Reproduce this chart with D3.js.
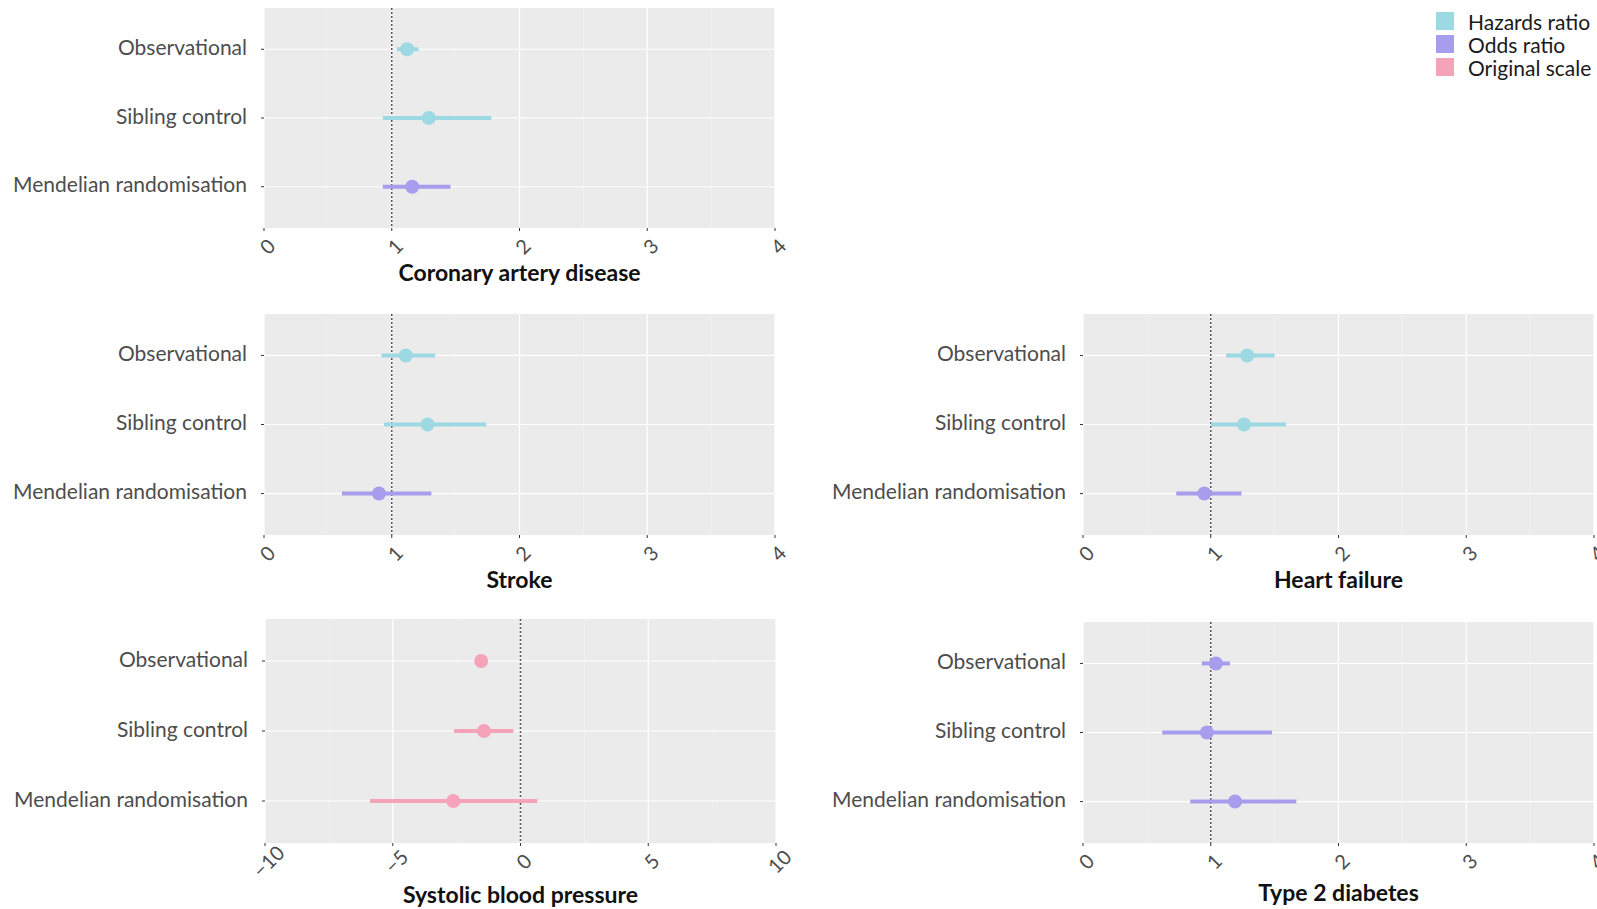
<!DOCTYPE html>
<html>
<head>
<meta charset="utf-8">
<script src="https://cdn.jsdelivr.net/npm/d3@7"></script>
<style>
  body { margin: 0; background: #fff; }
  svg { display: block; }
  text { font-family: Lato, "Open Sans", sans-serif; }
</style>
</head>
<body>
<div id="chart"></div>
<script>
// categories
const methods = ["Observational", "Sibling control", "Mendelian randomisation"];
const scaleTypes = ["Hazards ratio", "Odds ratio", "Original scale"];
const typeColours = ["#9dd9e2", "#a69ded", "#f5a3b8"];

// values (estimate, lower, upper, scale type)
const cadEst = [1.12, 1.29, 1.16];
const cadLow = [1.04, 0.93, 0.93];
const cadHigh = [1.21, 1.78, 1.46];
const cadType = ["Hazards ratio", "Hazards ratio", "Odds ratio"];

const strokeEst = [1.11, 1.28, 0.90];
const strokeLow = [0.92, 0.94, 0.61];
const strokeHigh = [1.34, 1.74, 1.31];
const strokeType = ["Hazards ratio", "Hazards ratio", "Odds ratio"];

const hfEst = [1.285, 1.26, 0.95];
const hfLow = [1.12, 1.00, 0.73];
const hfHigh = [1.50, 1.59, 1.24];
const hfType = ["Hazards ratio", "Hazards ratio", "Odds ratio"];

const sbpEst = [-1.54, -1.43, -2.63];
const sbpLow = [-1.62, -2.60, -5.89];
const sbpHigh = [-1.46, -0.28, 0.66];
const sbpType = ["Original scale", "Original scale", "Original scale"];

const t2dEst = [1.04, 0.97, 1.19];
const t2dLow = [0.93, 0.62, 0.84];
const t2dHigh = [1.15, 1.48, 1.67];
const t2dType = ["Odds ratio", "Odds ratio", "Odds ratio"];

const ratioTicks = [0, 1, 2, 3, 4];
const sbpTicks = [-10, -5, 0, 5, 10];

const width = 1597, height = 909;

// box = [left, top, right, bottom], titleGap = baseline below panel
const panels = [
    { title: "Coronary artery disease", est: cadEst, low: cadLow, high: cadHigh, type: cadType,
      ticks: ratioTicks, ref: 1, box: [264, 8, 775, 228], titleGap: 53 },
    { title: "Stroke", est: strokeEst, low: strokeLow, high: strokeHigh, type: strokeType,
      ticks: ratioTicks, ref: 1, box: [264, 314, 775, 535], titleGap: 53 },
    { title: "Heart failure", est: hfEst, low: hfLow, high: hfHigh, type: hfType,
      ticks: ratioTicks, ref: 1, box: [1083, 314, 1594, 535], titleGap: 53 },
    { title: "Systolic blood pressure", est: sbpEst, low: sbpLow, high: sbpHigh, type: sbpType,
      ticks: sbpTicks, ref: 0, box: [265, 619, 776, 843], titleGap: 60 },
    { title: "Type 2 diabetes", est: t2dEst, low: t2dLow, high: t2dHigh, type: t2dType,
      ticks: ratioTicks, ref: 1, box: [1083, 622, 1594, 843], titleGap: 58 }
];

const colour = d3.scaleOrdinal().domain(scaleTypes).range(typeColours);

const svg = d3.select("#chart").append("svg")
    .attr("width", width)
    .attr("height", height);

panels.forEach(p => {
    const [x0, y0, x1, y1] = p.box;
    const x = d3.scaleLinear()
        .domain([p.ticks[0], p.ticks[p.ticks.length - 1]])
        .range([x0, x1]);
    const y = d3.scalePoint().domain(methods).range([y0, y1]).padding(0.6);

    const g = svg.append("g");

    // panel background
    g.append("rect")
        .attr("x", x0).attr("y", y0)
        .attr("width", x1 - x0).attr("height", y1 - y0)
        .attr("fill", "#ebebeb");

    // minor grid
    const minor = d3.pairs(p.ticks).map(([a, b]) => (a + b) / 2);
    g.selectAll(".minor").data(minor).enter().append("line")
        .attr("x1", d => x(d)).attr("x2", d => x(d))
        .attr("y1", y0).attr("y2", y1)
        .attr("stroke", "#f3f3f3").attr("stroke-width", 0.6);

    // major grid
    g.selectAll(".major").data(p.ticks).enter().append("line")
        .attr("x1", d => x(d)).attr("x2", d => x(d))
        .attr("y1", y0).attr("y2", y1)
        .attr("stroke", "#fff").attr("stroke-width", 1.2);

    g.selectAll(".hgrid").data(methods).enter().append("line")
        .attr("x1", x0).attr("x2", x1)
        .attr("y1", d => y(d)).attr("y2", d => y(d))
        .attr("stroke", "#fff").attr("stroke-width", 1.2);

    // reference line
    g.append("line")
        .attr("x1", x(p.ref)).attr("x2", x(p.ref))
        .attr("y1", y0).attr("y2", y1)
        .attr("stroke", "#555").attr("stroke-width", 1.5)
        .attr("stroke-dasharray", "2,2");

    // x axis ticks + labels
    const xAxis = g.append("g").attr("transform", `translate(0,${y1})`);
    xAxis.selectAll("line").data(p.ticks).enter().append("line")
        .attr("x1", d => x(d)).attr("x2", d => x(d))
        .attr("y1", 0).attr("y2", 3)
        .attr("stroke", "#333");
    xAxis.selectAll("text").data(p.ticks).enter().append("text")
        .attr("transform", d => `translate(${x(d) + 3},18) rotate(-45)`)
        .attr("text-anchor", "middle")
        .attr("dominant-baseline", "central")
        .attr("font-size", 20)
        .attr("fill", "#4d4d4d")
        .text(d => d3.format("d")(d));

    // y axis ticks + labels
    g.selectAll(".ytick").data(methods).enter().append("line")
        .attr("x1", x0 - 3).attr("x2", x0)
        .attr("y1", d => y(d)).attr("y2", d => y(d))
        .attr("stroke", "#333");
    g.selectAll(".ylab").data(methods).enter().append("text")
        .attr("x", x0 - 17)
        .attr("y", d => y(d) - 3)
        .attr("text-anchor", "end")
        .attr("dominant-baseline", "central")
        .attr("font-size", 21)
        .attr("fill", "#4d4d4d")
        .text(d => d);

    // estimates
    const rows = methods.map((m, i) => ({
        method: m, est: p.est[i], low: p.low[i], high: p.high[i], type: p.type[i]
    }));

    g.selectAll(".ci").data(rows).enter().append("line")
        .attr("x1", d => x(d.low)).attr("x2", d => x(d.high))
        .attr("y1", d => y(d.method)).attr("y2", d => y(d.method))
        .attr("stroke", d => colour(d.type))
        .attr("stroke-width", 4);

    g.selectAll(".pt").data(rows).enter().append("circle")
        .attr("cx", d => x(d.est))
        .attr("cy", d => y(d.method))
        .attr("r", 7)
        .attr("fill", d => colour(d.type));

    // axis title
    g.append("text")
        .attr("x", (x0 + x1) / 2)
        .attr("y", y1 + p.titleGap)
        .attr("text-anchor", "middle")
        .attr("font-size", 23)
        .attr("font-weight", 700)
        .attr("fill", "#111")
        .text(p.title);
});

// legend
const legend = svg.append("g").attr("transform", "translate(1436,12)");
const item = legend.selectAll("g").data(scaleTypes).enter().append("g")
    .attr("transform", (d, i) => `translate(0,${i * 23})`);
item.append("rect")
    .attr("width", 18).attr("height", 18)
    .attr("fill", d => colour(d));
item.append("text")
    .attr("x", 32).attr("y", 9)
    .attr("dominant-baseline", "central")
    .attr("font-size", 21)
    .attr("fill", "#1a1a1a")
    .text(d => d);
</script>
</body>
</html>
